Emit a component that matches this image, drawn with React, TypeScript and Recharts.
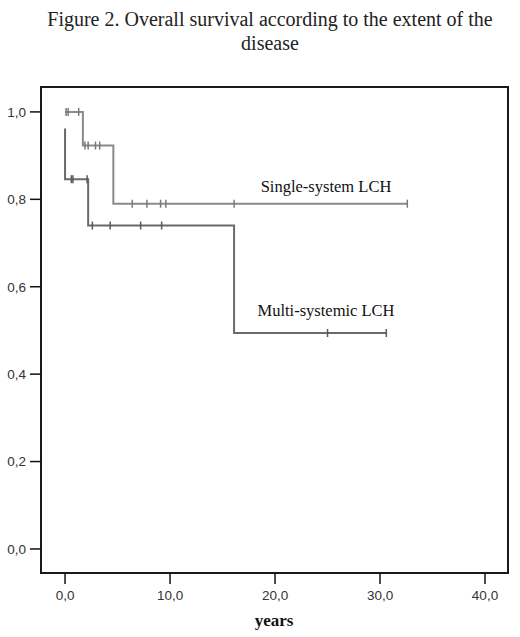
import React from 'react'
import { LineChart, Line, XAxis, YAxis, ReferenceArea } from 'recharts'

// time (years), survival, censored?
const singleTimes = [0, 0.1, 0.3, 1.3, 1.7, 1.9, 2.2, 2.9, 3.3, 4.6, 6.4, 7.8, 9.1, 9.6, 16.1, 32.6]
const singleSurv = [1.0, 1.0, 1.0, 1.0, 0.923, 0.923, 0.923, 0.923, 0.923, 0.79, 0.79, 0.79, 0.79, 0.79, 0.79, 0.79]
const singleCens = [false, true, true, true, false, true, true, true, true, false, true, true, true, true, true, true]

const multiTimes = [0, 0, 0.6, 0.75, 2.1, 2.2, 2.6, 4.3, 7.2, 9.2, 16.1, 25.0, 30.6]
const multiSurv = [0.962, 0.846, 0.846, 0.846, 0.846, 0.74, 0.74, 0.74, 0.74, 0.74, 0.494, 0.494, 0.494]
const multiCens = [false, false, true, true, true, false, true, true, true, true, false, true, true]

const xTicks = [0, 10, 20, 30, 40]
const yTicks = [0, 0.2, 0.4, 0.6, 0.8, 1.0]

const X_DOMAIN: [number, number] = [-2.29, 42.19]
const Y_DOMAIN: [number, number] = [-0.055, 1.057]

const toRows = (t: number[], s: number[], c: boolean[]) =>
  t.map((time, i) => ({ time, surv: s[i], cens: c[i] }))

const singleData = toRows(singleTimes, singleSurv, singleCens)
const multiData = toRows(multiTimes, multiSurv, multiCens)

const fmt = (v: number) => v.toFixed(1).replace('.', ',')

const censorDot = (color: string) => (props: any) => {
  const { cx, cy, payload, index } = props
  if (!payload || !payload.cens) return <g key={index} />
  return (
    <line key={index} x1={cx} x2={cx} y1={cy - 4} y2={cy + 4} stroke={color} strokeWidth={1.5} />
  )
}

const serif = '"Liberation Serif", "DejaVu Serif", serif'
const sans = '"Liberation Sans", Arial, sans-serif'

export default function App() {
  return (
    <div style={{ position: 'absolute', left: 0, top: 0, width: 520, height: 637, background: '#fff' }}>
      <div
        style={{
          position: 'absolute',
          left: 10,
          top: 7,
          width: 520,
          textAlign: 'center',
          fontFamily: serif,
          fontSize: 20,
          lineHeight: '24px',
          color: '#222'
        }}
      >
        Figure 2. Overall survival according to the extent of the
        <br />
        disease
      </div>

      <LineChart width={520} height={637} margin={{ top: 87, right: 12, bottom: 0, left: 0 }}>
        <XAxis
          type="number"
          dataKey="time"
          domain={X_DOMAIN}
          ticks={xTicks}
          tickFormatter={fmt}
          allowDataOverflow
          height={64}
          axisLine={false}
          tickSize={11}
          tickMargin={6}
          tickLine={{ stroke: '#111', strokeWidth: 1.5 }}
          tick={{ fill: '#333', fontSize: 13.5, fontFamily: sans }}
        />
        <YAxis
          type="number"
          dataKey="surv"
          domain={Y_DOMAIN}
          ticks={yTicks}
          tickFormatter={fmt}
          allowDataOverflow
          width={41}
          axisLine={false}
          tickSize={11}
          tickMargin={4}
          tickLine={{ stroke: '#111', strokeWidth: 1.5 }}
          tick={{ fill: '#333', fontSize: 13.5, fontFamily: sans }}
        />
        <ReferenceArea
          x1={X_DOMAIN[0]}
          x2={X_DOMAIN[1]}
          y1={Y_DOMAIN[0]}
          y2={Y_DOMAIN[1]}
          fill="none"
          stroke="#1a1a1a"
          strokeWidth={2}
        />
        <Line
          data={singleData}
          dataKey="surv"
          type="stepAfter"
          stroke="#8a8a8a"
          strokeWidth={2}
          dot={censorDot('#7a7a7a')}
          activeDot={false}
          isAnimationActive={false}
        />
        <Line
          data={multiData}
          dataKey="surv"
          type="stepAfter"
          stroke="#6a6a6a"
          strokeWidth={2}
          dot={censorDot('#5a5a5a')}
          activeDot={false}
          isAnimationActive={false}
        />
      </LineChart>

      <div style={{ position: 'absolute', left: 226, top: 177, width: 200, textAlign: 'center', fontFamily: serif, fontSize: 16.5, color: '#111' }}>
        Single-system LCH
      </div>
      <div style={{ position: 'absolute', left: 226, top: 301, width: 200, textAlign: 'center', fontFamily: serif, fontSize: 16.5, color: '#111' }}>
        Multi-systemic LCH
      </div>
      <div style={{ position: 'absolute', left: 174, top: 611, width: 200, textAlign: 'center', fontFamily: serif, fontSize: 17, fontWeight: 'bold', color: '#111' }}>
        years
      </div>
    </div>
  )
}
